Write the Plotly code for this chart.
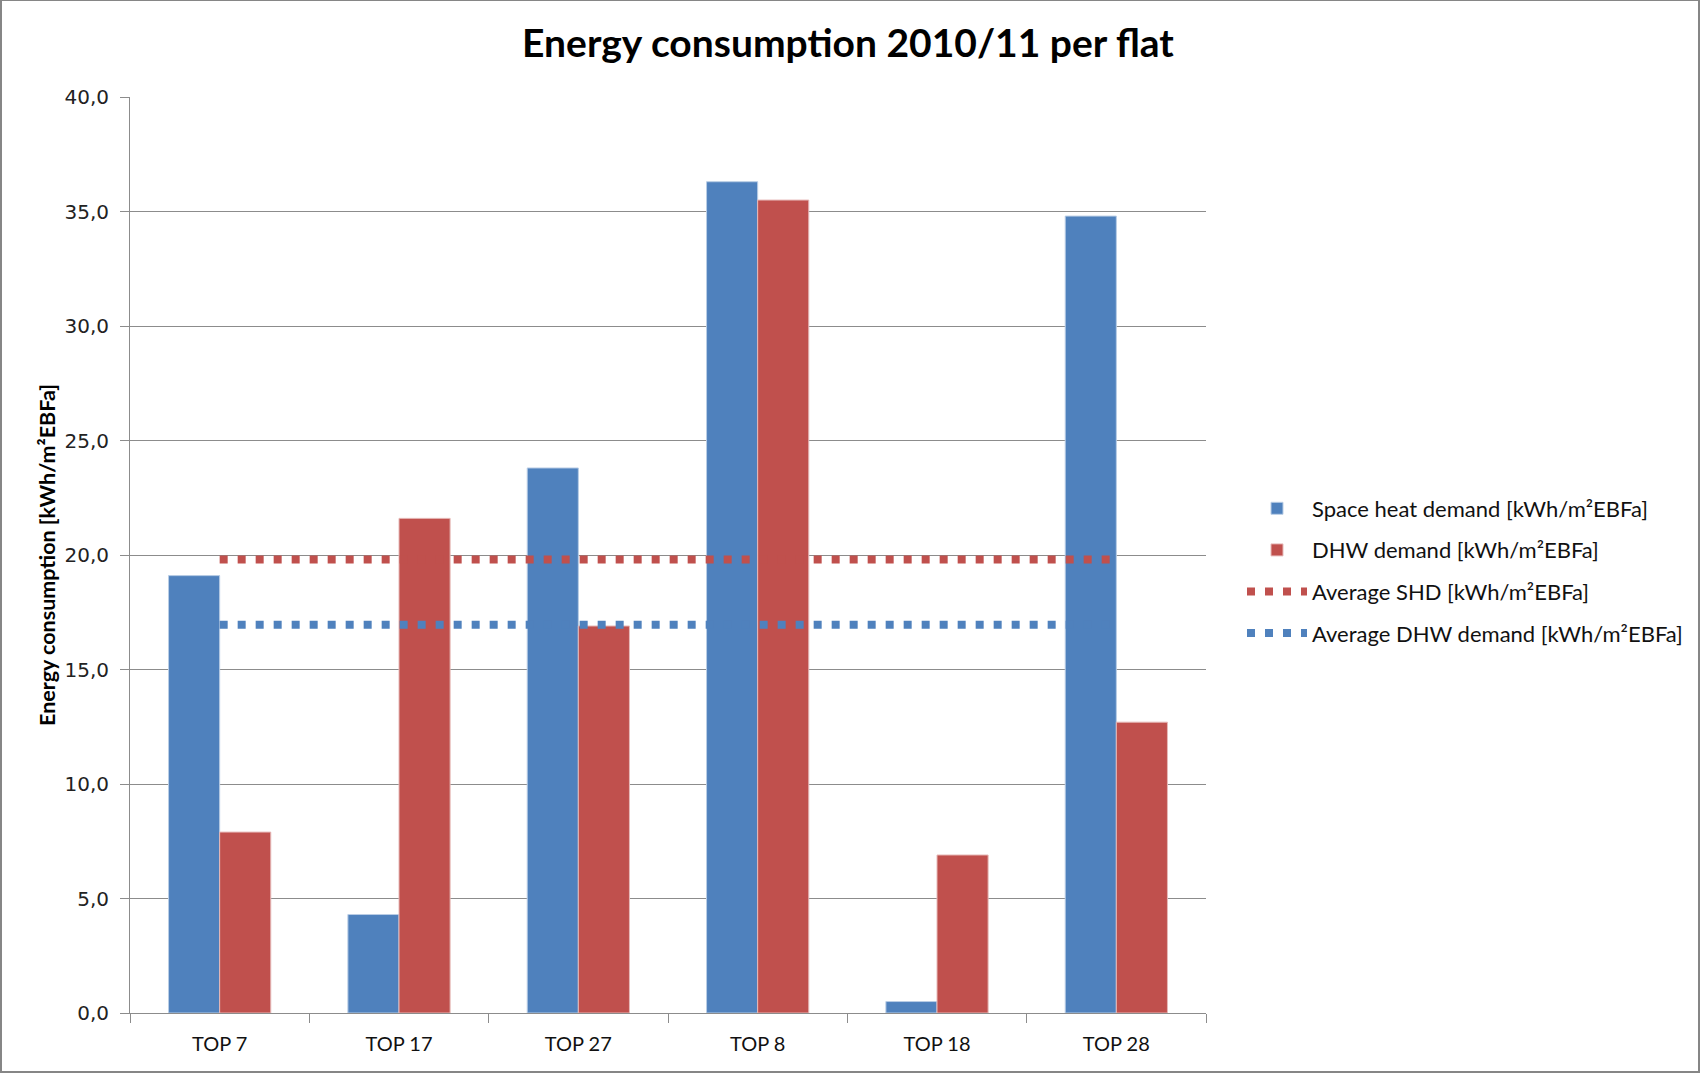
import plotly.graph_objects as go

categories = ["TOP 7", "TOP 17", "TOP 27", "TOP 8", "TOP 18", "TOP 28"]
space_heat = [19.1, 4.3, 23.8, 36.3, 0.5, 34.8]
dhw = [7.9, 21.6, 16.9, 35.5, 6.9, 12.7]
avg_shd = [19.8, 19.8, 19.8, 19.8, 19.8, 19.8]
avg_dhw = [16.95, 16.95, 16.95, 16.95, 16.95, 16.95]
y_ticks = [0, 5, 10, 15, 20, 25, 30, 35, 40]
y_tick_labels = ["0,0", "5,0", "10,0", "15,0", "20,0", "25,0", "30,0", "35,0", "40,0"]

BLUE = "#4F81BD"
RED = "#C0504D"
GRID = "#8C8C8C"
CAL = "Lato, 'Open Sans', sans-serif"

W, H = 1701, 1074
L, R, T, B = 130, 1701 - 1206, 97, 1074 - 1013
pw = W - L - R
ph = H - T - B

fig = go.Figure()
fig.add_trace(go.Bar(x=categories, y=space_heat, name="Space heat demand [kWh/m²EBFa]",
                     marker=dict(color=BLUE, line=dict(color="#B9CDE5", width=1)),
                     legendgroup="a"))
fig.add_trace(go.Bar(x=categories, y=dhw, name="DHW demand [kWh/m²EBFa]",
                     marker=dict(color=RED, line=dict(color="#E6B9B8", width=1)),
                     legendgroup="b"))
fig.add_trace(go.Scatter(x=categories, y=avg_shd, name="Average SHD [kWh/m²EBFa]",
                         mode="lines", line=dict(color=RED, width=8, dash="8px,10px"),
                         legendgroup="c"))
fig.add_trace(go.Scatter(x=categories, y=avg_dhw, name="Average DHW demand [kWh/m²EBFa]",
                         mode="lines", line=dict(color=BLUE, width=8, dash="8px,10px"),
                         legendgroup="d"))

# outer chart frame
fig.add_shape(type="rect", xref="paper", yref="paper",
              x0=(1 - L) / pw, x1=(W - 2 - L) / pw,
              y0=((H - B) - (H - 2)) / ph, y1=(H - B) / ph,
              line=dict(color="#868686", width=2), layer="below")

fig.update_layout(
    width=W, height=H,
    margin=dict(l=L, r=R, t=T, b=B),
    paper_bgcolor="white", plot_bgcolor="white",
    barmode="group", bargap=0.43, bargroupgap=0,
    title=dict(text="<b>Energy consumption 2010/11 per flat</b>",
               x=848 / W, xanchor="center", y=1 - 43 / H, yanchor="middle",
               font=dict(family=CAL, size=39, color="black")),
    xaxis=dict(type="category", tickson="boundaries", ticks="outside", ticklen=9,
               tickcolor=GRID, showline=True, linecolor=GRID, linewidth=1,
               showgrid=False, ticklabelstandoff=13,
               tickfont=dict(family=CAL, size=20, color="#111")),
    yaxis=dict(range=[0, 40], tickvals=y_ticks, ticktext=y_tick_labels,
               ticks="outside", ticklen=9, tickcolor=GRID, showline=True,
               linecolor=GRID, linewidth=1, showgrid=True, gridcolor=GRID, gridwidth=1,
               zeroline=False, ticklabelstandoff=7,
               tickfont=dict(family="'DejaVu Sans', Verdana, sans-serif", size=20, color="#222"),
               title=dict(text="<b>Energy consumption [kWh/m²EBFa]</b>", standoff=2,
                          font=dict(family=CAL, size=21.5, color="black"))),
    legend=dict(x=(1242 - L) / pw, xanchor="left", y=(1013 - 571) / ph, yanchor="middle",
                font=dict(family=CAL, size=22, color="#111"),
                traceorder="grouped", tracegroupgap=10, itemwidth=60,
                bgcolor="rgba(0,0,0,0)"),
    showlegend=True,
)

fig.write_html("out.html", config={"displayModeBar": False},
               post_script="document.body.style.margin='0';")
